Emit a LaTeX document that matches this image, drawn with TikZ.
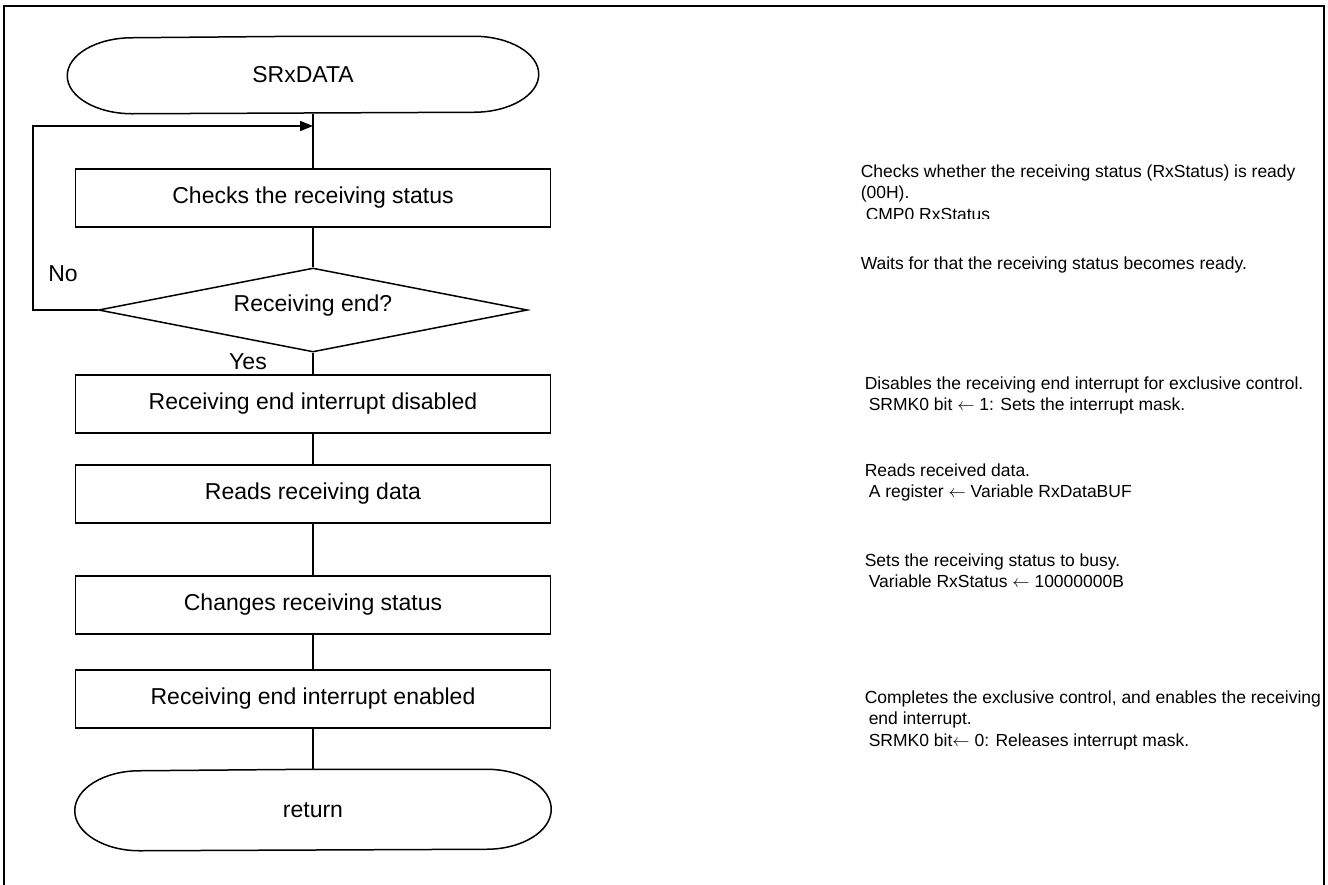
\documentclass[tikz,border=0pt]{standalone}
\usepackage{fontspec}
\setmainfont{Liberation Sans}
\usetikzlibrary{arrows.meta,shapes.geometric}
\newcommand{\larr}{\ensuremath{\leftarrow}}
\begin{document}
\begin{tikzpicture}[x=1pt,y=1pt,line width=1.5pt,
  procbox/.style={draw,rectangle,minimum width=475pt,minimum height=58pt,inner sep=0pt,font=\fontsize{23}{27}\selectfont},
  termbox/.style={rectangle,minimum width=470pt,minimum height=76pt,inner sep=0pt,font=\fontsize{23}{27}\selectfont},
  termline/.style={line join=round},
  decbox/.style={draw,diamond,aspect=5.1,minimum width=429pt,minimum height=84pt,inner sep=0pt,font=\fontsize{23}{27}\selectfont},
  lbl/.style={inner sep=0pt,font=\fontsize{23}{27}\selectfont},
  note/.style={anchor=base west,inner sep=0pt,font=\fontsize{17.5}{21.5}\selectfont},
  tip/.style={-{Triangle[length=13pt,width=10pt]}}]
\useasboundingbox (0,0) rectangle (1328,-884);
% frame
\draw (4,-890) -- (4,-6) -- (1324,-6) -- (1324,-890);

% terminals
\node[termbox] (start) at (303,-75) {SRxDATA};
\draw[termline] (start.north) -- ([xshift=-65pt]start.north east)
  arc[start angle=90,end angle=-90,x radius=65pt,y radius=38pt]
  -- ([xshift=65pt]start.south west)
  arc[start angle=270,end angle=90,x radius=65pt,y radius=38pt] -- cycle;

\node[procbox] (b1) at (313,-198) {Checks the receiving status};
\node[decbox] (dia) at (313,-310) {};
\node[lbl] (diat) at (313,-306) {Receiving end?};
\node[procbox] (b2) at (313,-404) {Receiving end interrupt disabled};
\node[procbox] (b3) at (313,-494) {Reads receiving data};
\node[procbox] (b4) at (313,-605) {Changes receiving status};
\node[procbox] (b5) at (313,-699) {Receiving end interrupt enabled};
\node[termbox,minimum width=475pt,minimum height=80pt] (ret) at (313,-810) {return};
\draw[termline] (ret.north) -- ([xshift=-65pt]ret.north east)
  arc[start angle=90,end angle=-90,x radius=65pt,y radius=40pt]
  -- ([xshift=65pt]ret.south west)
  arc[start angle=270,end angle=90,x radius=65pt,y radius=40pt] -- cycle;

% labels
\node[lbl] (no) at (63,-274) {No};
\node[lbl] (yes) at (248,-362) {Yes};

% connectors
\coordinate (joinpt) at (313,-126);
\coordinate (nocorner) at (33,-310);
\draw (start.south -| b1.north) -- (b1.north);
\draw (b1.south) -- (dia.north);
\draw (dia.south) -- (b2.north);
\draw (b2.south) -- (b3.north);
\draw (b3.south) -- (b4.north);
\draw (b4.south) -- (b5.north);
\draw (b5.south) -- (ret.north);
\draw[tip] (dia.west) -- (nocorner) |- (joinpt);

% notes
\node[note] (n1a) at (860,-177) {Checks whether the receiving status (RxStatus) is ready};
\node[note] (n1b) at (860,-198.5) {(00H).};
\begin{scope}
\clip (850,-205) rectangle (1200,-218);
\node[note] (n1c) at (865,-220) {CMP0 RxStatus};
\end{scope}
\node[note] (n2) at (860,-269) {Waits for that the receiving status becomes ready.};
\node[note] (n3a) at (864,-389) {Disables the receiving end interrupt for exclusive control.};
\node[note] (n3b) at (868,-410.5) {SRMK0 bit \larr{} 1: Sets the interrupt mask.};
\node[note] (n4a) at (864,-476) {Reads received data.};
\node[note] (n4b) at (868,-497.5) {A register \larr{} Variable RxDataBUF};
\node[note] (n5a) at (864,-566) {Sets the receiving status to busy.};
\node[note] (n5b) at (868,-587.5) {Variable RxStatus \larr{} 10000000B};
\node[note] (n6a) at (864,-703) {Completes the exclusive control, and enables the receiving};
\node[note] (n6b) at (868,-724.5) {end interrupt.};
\node[note] (n6c) at (868,-746) {SRMK0 bit\larr{} 0: Releases interrupt mask.};
\end{tikzpicture}
\end{document}
